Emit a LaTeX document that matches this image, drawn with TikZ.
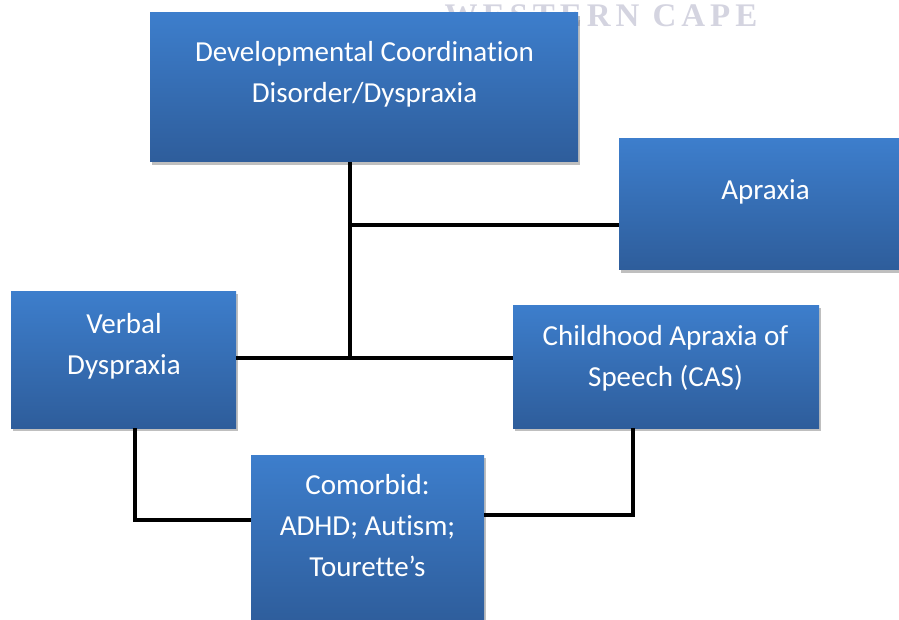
\documentclass[tikz,border=0pt]{standalone}
\usepackage{fontspec}
\setmainfont{Carlito}[Ligatures=NoCommon]
\newfontfamily\wmfont[LetterSpace=15]{Liberation Serif}
\usepackage{tikz}
\usetikzlibrary{arrows.meta,positioning,shadows,calc}
\definecolor{boxtop}{HTML}{3D7ECC}
\definecolor{boxbottom}{HTML}{2E5D9B}
\definecolor{wmgray}{HTML}{D4D4E0}

\begin{document}
\begin{tikzpicture}[
  x=1pt, y=-1pt,
  box/.style={rectangle, draw=none, top color=boxtop, bottom color=boxbottom,
    drop shadow={shadow xshift=2pt, shadow yshift=-3pt, fill=black, opacity=.25}},
  boxtext/.style={align=center, text=white, inner sep=0pt, font=\fontsize{29}{41}\selectfont},
  link/.style={line width=4.5pt, draw=black}
]
  \useasboundingbox (0,0) rectangle (899,620);

  % Watermark behind the top box
  \node[text=wmgray, font=\wmfont\bfseries\fontsize{33}{36}\selectfont, inner sep=0pt] (wm) at (601,16) {WESTERN CAPE};

  % Boxes
  \node[box, minimum width=428pt, minimum height=149pt] (dcd) at (364,87.5) {};
  \node[box, minimum width=292pt, minimum height=131pt] (apraxia) at (765,204.5) {};
  \node[box, minimum width=225pt, minimum height=137pt] (verbal) at (123.5,359.5) {};
  \node[box, minimum width=306pt, minimum height=123pt] (cas) at (666,366.5) {};
  \node[box, minimum width=233pt, minimum height=170pt] (comorbid) at (367.5,540) {};

  % Box labels
  \node[boxtext] (dcdlbl) at (364.5,74) {Developmental Coordination\\Disorder/Dyspraxia};
  \node[boxtext] (apraxialbl) at (765.5,191.5) {Apraxia};
  \node[boxtext] (verballbl) at (124,346) {Verbal\\Dyspraxia};
  \node[boxtext] (caslbl) at (665.5,358) {Childhood Apraxia of\\Speech (CAS)};
  \node[boxtext] (comorbidlbl) at (367.5,526) {Comorbid:\\ADHD; Autism;\\Tourette’s};

  % Connectors
  \coordinate (jtop) at (350,225);
  \coordinate (jmid) at (350,358);
  \draw[link] (dcd.south -| jtop) -- (jmid);
  \draw[link] (jtop) -- (jtop -| apraxia.west);
  \draw[link] (jmid -| verbal.east) -- (jmid -| cas.west);
  \draw[link] ([xshift=11.5pt]verbal.south) |- ([yshift=20pt]comorbid.west);
  \draw[link] ([xshift=-33pt]cas.south) |- ([yshift=25pt]comorbid.east);
\end{tikzpicture}
\end{document}
